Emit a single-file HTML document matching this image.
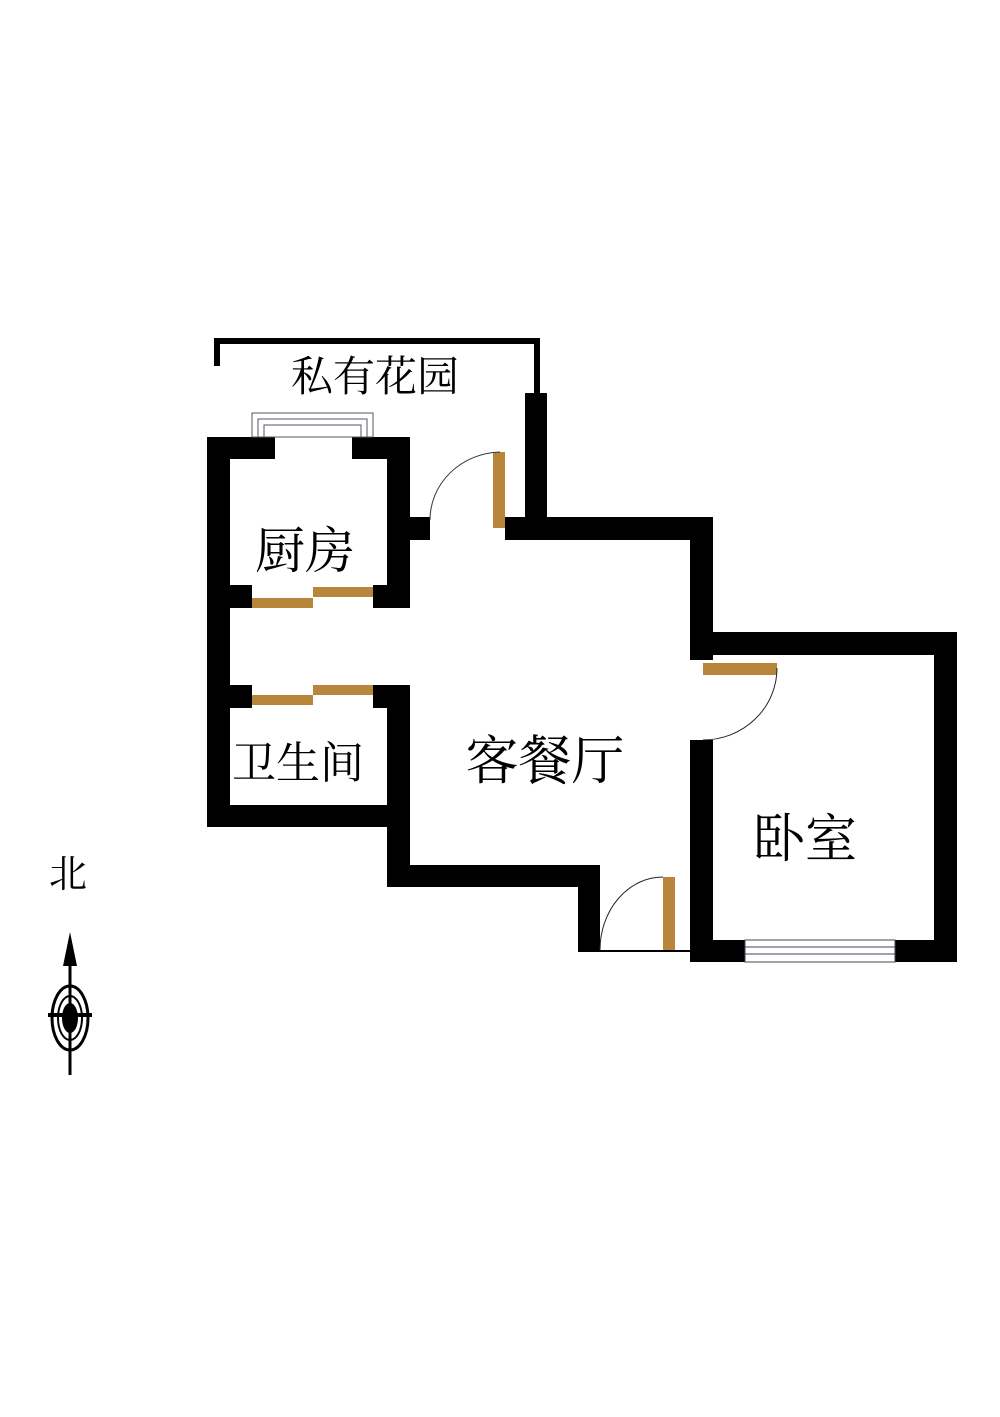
<!DOCTYPE html>
<html><head><meta charset="utf-8"><style>
body{margin:0;background:#fff;}
svg text{font-family:"Liberation Serif","Noto Serif CJK SC",serif;fill:#000;}
</style></head><body>
<svg width="1000" height="1412" viewBox="0 0 1000 1412" xmlns="http://www.w3.org/2000/svg">
<rect width="1000" height="1412" fill="#fff"/>
<rect x="214" y="338" width="326" height="6" fill="#000"/>
<rect x="214" y="338" width="6" height="28" fill="#000"/>
<rect x="534" y="338" width="6" height="60" fill="#000"/>
<rect x="525" y="393" width="22" height="140" fill="#000"/>
<rect x="207" y="437" width="23" height="390" fill="#000"/>
<rect x="207" y="437" width="68" height="22" fill="#000"/>
<rect x="352" y="437" width="58" height="22" fill="#000"/>
<rect x="387" y="437" width="23" height="171" fill="#000"/>
<rect x="410" y="517" width="20" height="23" fill="#000"/>
<rect x="252" y="413" width="121" height="24" fill="none" stroke="#556" stroke-width="1"/>
<rect x="258" y="419" width="109" height="18" fill="none" stroke="#556" stroke-width="1"/>
<rect x="264" y="425" width="97" height="12" fill="none" stroke="#556" stroke-width="1"/>
<rect x="230" y="585" width="22" height="23" fill="#000"/>
<rect x="373" y="585" width="37" height="23" fill="#000"/>
<rect x="252" y="598" width="61" height="10" fill="#b8863b"/>
<rect x="313" y="587" width="60" height="10" fill="#b8863b"/>
<rect x="230" y="685" width="22" height="23" fill="#000"/>
<rect x="373" y="685" width="37" height="23" fill="#000"/>
<rect x="387" y="685" width="23" height="202" fill="#000"/>
<rect x="252" y="695" width="61" height="10" fill="#b8863b"/>
<rect x="313" y="685" width="60" height="10" fill="#b8863b"/>
<rect x="207" y="805" width="203" height="22" fill="#000"/>
<rect x="387" y="865" width="213" height="22" fill="#000"/>
<rect x="578" y="865" width="22" height="87" fill="#000"/>
<line x1="600" y1="951" x2="705" y2="951" stroke="#000" stroke-width="2"/>
<rect x="663" y="877" width="12" height="73" fill="#b8863b"/>
<path d="M663 877 A63 73 0 0 0 600 950" fill="none" stroke="#223" stroke-width="1"/>
<rect x="493" y="452" width="12" height="76" fill="#b8863b"/>
<path d="M500 452 A72 68 0 0 0 430 520" fill="none" stroke="#334" stroke-width="1"/>
<rect x="505" y="517" width="208" height="23" fill="#000"/>
<rect x="690" y="517" width="23" height="143" fill="#000"/>
<rect x="690" y="632" width="267" height="23" fill="#000"/>
<rect x="934" y="632" width="23" height="330" fill="#000"/>
<rect x="703" y="663" width="74" height="12" fill="#b8863b"/>
<path d="M777 668 A74 72 0 0 1 703 740" fill="none" stroke="#223" stroke-width="1"/>
<rect x="690" y="740" width="23" height="222" fill="#000"/>
<rect x="703" y="940" width="42" height="22" fill="#000"/>
<rect x="895" y="940" width="62" height="22" fill="#000"/>
<rect x="745" y="940" width="150" height="22" fill="none" stroke="#445" stroke-width="1"/>
<line x1="745" y1="947" x2="895" y2="947" stroke="#445" stroke-width="1"/>
<line x1="745" y1="954" x2="895" y2="954" stroke="#445" stroke-width="1"/>
<text x="375" y="391" font-size="42" text-anchor="middle">私有花园</text>
<text x="305" y="568" font-size="50" text-anchor="middle">厨房</text>
<text x="298" y="778" font-size="44" text-anchor="middle">卫生间</text>
<text x="545" y="779" font-size="53" text-anchor="middle">客餐厅</text>
<text x="805" y="857" font-size="52" text-anchor="middle">卧室</text>
<text x="68" y="887" font-size="38" text-anchor="middle">北</text>
<line x1="70" y1="950" x2="70" y2="1075" stroke="#000" stroke-width="3"/>
<polygon points="70,932 63,966 77,966" fill="#000"/>
<ellipse cx="70" cy="1018" rx="18" ry="32" fill="none" stroke="#000" stroke-width="3"/>
<ellipse cx="70" cy="1018" rx="12" ry="22" fill="none" stroke="#000" stroke-width="2"/>
<ellipse cx="70" cy="1018" rx="8" ry="15" fill="#000"/>
<line x1="48" y1="1015" x2="92" y2="1015" stroke="#000" stroke-width="4"/>
</svg>
</body></html>
